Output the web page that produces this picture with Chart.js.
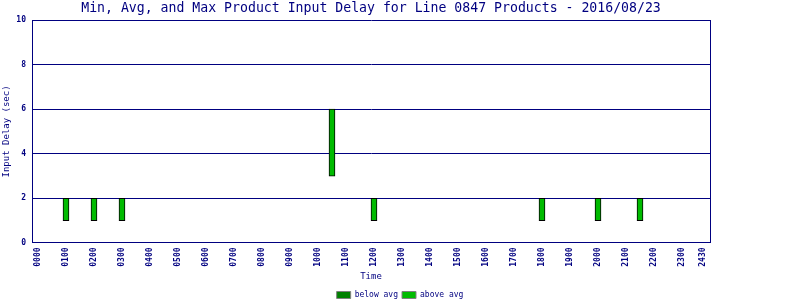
<!DOCTYPE html>
<html>
<head>
<meta charset="utf-8">
<script src="https://cdn.jsdelivr.net/npm/chart.js@4"></script>
<style>
  body { margin: 0; background: #fff; }
  #wrap { width: 800px; height: 300px; }
</style>
</head>
<body>
<div id="wrap"><canvas id="delayChart"></canvas></div>
<script>
const times = [1, 2, 3, 10.5, 12, 18, 20, 21.5]
const minDelay = [1, 1, 1, 3, 1, 1, 1, 1]
const avgDelay = [1, 1, 1, 3, 1, 1, 1, 1]
const maxDelay = [2, 2, 2, 6, 2, 2, 2, 2]
const tickHours = [0,1,2,3,4,5,6,7,8,9,10,11,12,13,14,15,16,17,18,19,20,21,22,23,23.75]
const tickLabels = ['0000','0100','0200','0300','0400','0500','0600','0700','0800','0900','1000','1100',
  '1200','1300','1400','1500','1600','1700','1800','1900','2000','2100','2200','2300','2430']
const yTicks = [0, 2, 4, 6, 8, 10]

const navy = '#000080';
const mono = 'DejaVu Sans Mono';

const belowData = times.map((t, i) => ({ x: t, y: [minDelay[i], avgDelay[i]] }));
const aboveData = times.map((t, i) => ({ x: t, y: [avgDelay[i], maxDelay[i]] }));

// title drawn centred over the plot area
const plotTitle = {
  id: 'plotTitle',
  afterDraw(chart) {
    const c = chart.ctx, a = chart.chartArea;
    c.save();
    c.font = '13.2px "' + mono + '"';
    c.fillStyle = navy;
    c.textAlign = 'center';
    c.textBaseline = 'middle';
    c.fillText('Min, Avg, and Max Product Input Delay for Line 0847 Products - 2016/08/23', (a.left + a.right) / 2, 9);
    c.restore();
  }
};

new Chart(document.getElementById('delayChart'), {
  type: 'bar',
  data: {
    datasets: [{
      label: 'below avg',
      data: belowData,
      backgroundColor: '#008000',
      borderColor: '#000000',
      borderWidth: 1,
      borderSkipped: false,
      barThickness: 6
    }, {
      label: 'above avg',
      data: aboveData,
      backgroundColor: '#00bb00',
      borderColor: '#000000',
      borderWidth: 1,
      borderSkipped: false,
      barThickness: 6
    }]
  },
  options: {
    responsive: true,
    maintainAspectRatio: false,
    animation: false,
    grouped: false,
    layout: { padding: { top: 20, left: 0, right: 0, bottom: -9 } },
    plugins: {
      title: { display: false },
      tooltip: { enabled: false },
      legend: {
        position: 'bottom',
        labels: {
          font: { family: mono, size: 8 },
          color: navy,
          boxWidth: 14,
          boxHeight: 7,
          padding: 4,
          generateLabels(chart) {
            return chart.data.datasets.map((ds, i) => ({
              text: ds.label,
              fillStyle: ds.backgroundColor,
              strokeStyle: '#808080',
              lineWidth: 1,
              fontColor: navy,
              datasetIndex: i
            }));
          }
        }
      }
    },
    scales: {
      x: {
        type: 'linear',
        offset: false,
        min: -0.214,
        max: 24,
        afterBuildTicks(scale) {
          scale.ticks = tickHours.map(v => ({ value: v }));
        },
        ticks: {
          autoSkip: false,
          maxRotation: 90,
          minRotation: 90,
          color: navy,
          padding: 4.5,
          font: { family: mono, size: 8, weight: 'bold' },
          callback(value) {
            const i = tickHours.indexOf(value);
            return i >= 0 ? tickLabels[i] : '';
          }
        },
        grid: { display: false, drawTicks: false },
        border: { display: true, color: navy, width: 1 },
        title: {
          display: true,
          text: 'Time',
          color: navy,
          font: { family: mono, size: 9 },
          padding: { top: 0, bottom: 5 }
        }
      },
      y: {
        min: 0,
        max: 10,
        afterBuildTicks(scale) {
          scale.ticks = yTicks.map(v => ({ value: v }));
        },
        afterFit(scale) { scale.width = 32; },
        ticks: {
          color: navy,
          padding: 6,
          font: { family: mono, size: 8, weight: 'bold' }
        },
        grid: { color: navy, lineWidth: 1, drawTicks: false },
        border: { display: true, color: navy, width: 1 },
        title: {
          display: true,
          text: 'Input Delay (sec)',
          color: navy,
          font: { family: mono, size: 9 },
          padding: { top: 1, bottom: 0 }
        }
      },
      yRight: {
        position: 'right',
        min: 0,
        max: 10,
        afterFit(scale) { scale.width = 90; },
        ticks: { display: false },
        grid: { display: false, drawTicks: false },
        border: { display: true, color: navy, width: 1 }
      }
    }
  },
  plugins: [plotTitle]
});
</script>
</body>
</html>
